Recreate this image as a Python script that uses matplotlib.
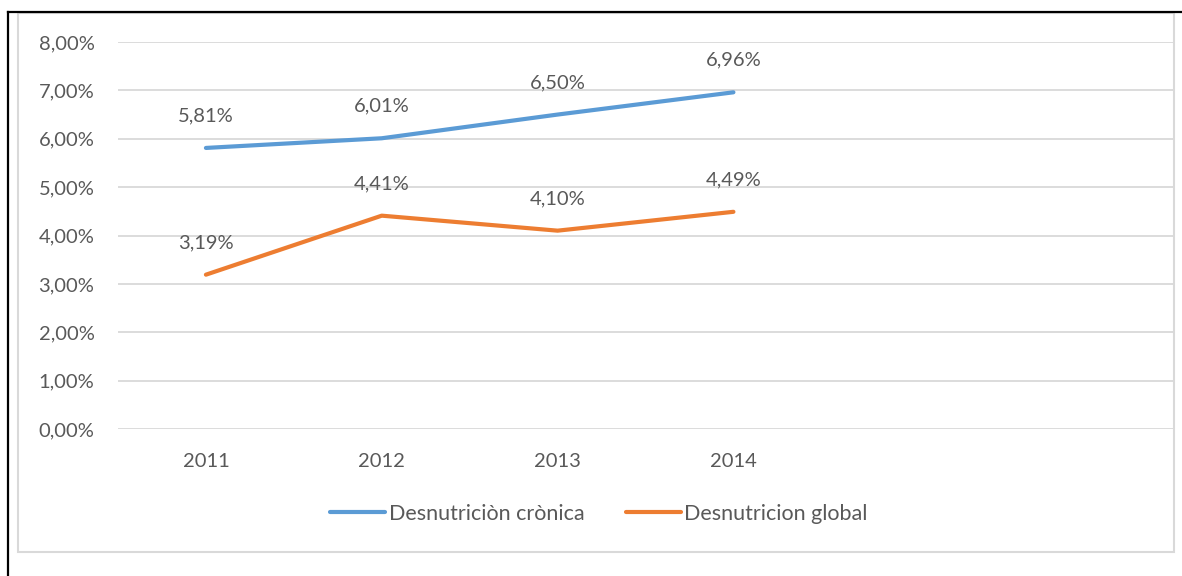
import matplotlib
matplotlib.use("Agg")
import matplotlib.pyplot as plt
from matplotlib.lines import Line2D
from matplotlib.patches import Rectangle

categories = ["2011", "2012", "2013", "2014", "", ""]
years = ["2011", "2012", "2013", "2014"]
cronica = [5.81, 6.01, 6.50, 6.96]
global_ = [3.19, 4.41, 4.10, 4.49]
series_names = ["Desnutriciòn crònica", "Desnutricion global"]
yticks = [0, 1, 2, 3, 4, 5, 6, 7, 8]

plt.rcParams['font.family'] = ['Lato', 'DejaVu Sans']
TXT = "#595959"
FS = 14.5
W, H = 1182, 576
fig = plt.figure(figsize=(W / 100, H / 100), dpi=100)

# frames
fig.add_artist(Line2D([8 / W, 8 / W], [0, 1 - 12 / H], color="black", lw=1.6))
fig.add_artist(Line2D([8 / W, 1], [1 - 12 / H, 1 - 12 / H], color="black", lw=1.6))
fig.add_artist(Rectangle((18 / W, 1 - 552 / H), (1174 - 18) / W, (552 - 13) / H,
                         fill=False, ec="#D9D9D9", lw=1.5))

ax = fig.add_axes([118 / W, 1 - 429 / H, (1173 - 118) / W, (429 - 42) / H])
x = list(range(len(years)))
colors = ["#5B9BD5", "#ED7D31"]
for vals, c, name in zip([cronica, global_], colors, series_names):
    ax.plot(x, vals, color=c, lw=3, solid_capstyle="round", label=name)
    for xi, v in zip(x, vals):
        ax.annotate(f"{v:.2f}%".replace(".", ","), (xi, v), xytext=(0, 23),
                    textcoords="offset points", ha="center", va="center",
                    fontsize=FS, color=TXT)

ax.set_xlim(-0.5, len(categories) - 0.5)
ax.set_ylim(0, 8)
ax.set_yticks(yticks)
ax.set_yticklabels([f"{t:.2f}%".replace(".", ",") for t in yticks])
ax.set_xticks(range(len(categories)))
ax.set_xticklabels(categories)
ax.tick_params(axis="both", length=0, labelsize=FS, labelcolor=TXT)
ax.tick_params(axis="y", pad=17)
ax.tick_params(axis="x", pad=17)
ax.grid(axis="y", color="#D9D9D9", lw=1.3)
ax.set_axisbelow(True)
for s in ax.spines.values():
    s.set_visible(False)

fig.legend(loc="center", bbox_to_anchor=(599 / W, 1 - 514 / H), ncol=2, frameon=False,
           fontsize=15.5, labelcolor=TXT, handlelength=2.55, handletextpad=0.15,
           columnspacing=1.95)

fig.savefig("out.png", dpi=100)
